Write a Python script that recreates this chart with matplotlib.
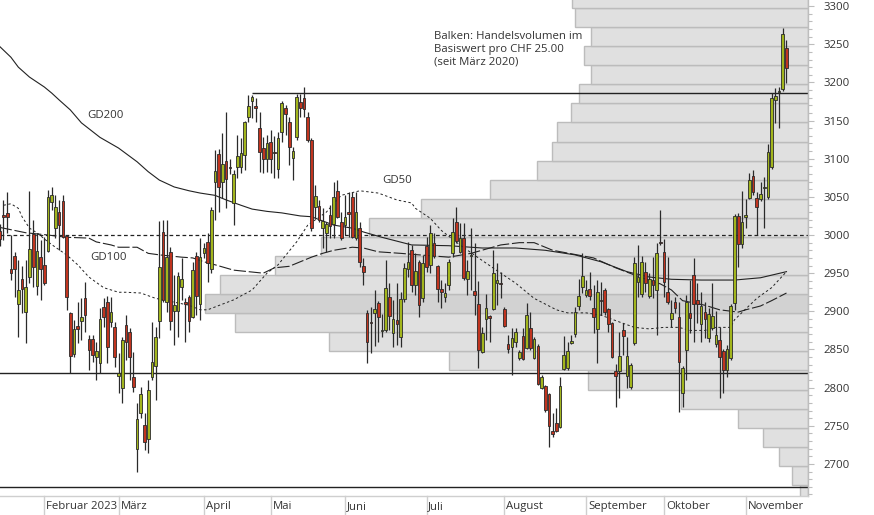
import matplotlib
matplotlib.use("Agg")
import matplotlib.pyplot as plt
from matplotlib.ticker import MultipleLocator, FormatStrFormatter
import numpy as np

plt.rcParams["font.family"] = ["Open Sans", "DejaVu Sans"]

# ── Daten: Tageskerzen (Index = Handelstag ab Mitte Januar 2023) ──────────────
OPEN = [3005, 3026, 3029, 2955, 2973, 2910, 2942, 2899, 2945, 3001, 2933, 2971, 2961, 2979, 3043, 3009,
        3030, 3045, 2999, 2898, 2844, 2881, 2887, 2918, 2864, 2864, 2840, 2832, 2906, 2912, 2886, 2880,
        2815, 2800, 2882, 2873, 2814, 2720, 2767, 2751, 2733, 2814, 2828, 2887, 3004, 2912, 2978, 2901,
        2901, 2932, 2912, 2919, 2893, 2972, 2910, 2976, 2991, 2955, 3069, 3106, 3069, 3097, 3089, 3042,
        3089, 3089, 3105, 3155, 3176, 3169, 3140, 3114, 3100, 3122, 3108, 3086, 3135, 3166, 3148, 3101,
        3128, 3174, 3180, 3155, 3125, 3037, 3038, 3009, 3003, 3026, 3014, 3058, 3017, 3013, 3030, 3050,
        2996, 3009, 2959, 2898, 2886, 2898, 2911, 2874, 2876, 2919, 2872, 2889, 2866, 2916, 2955, 2980,
        2935, 2965, 2918, 2986, 2961, 2990, 2959, 2929, 2919, 2935, 2976, 3017, 2978, 2996, 2942, 2972,
        2927, 2910, 2847, 2890, 2894, 2903, 2937, 2937, 2903, 2857, 2853, 2860, 2839, 2868, 2852, 2878,
        2839, 2855, 2800, 2802, 2792, 2743, 2754, 2749, 2824, 2826, 2859, 2870, 2907, 2932, 2921, 2929,
        2904, 2877, 2914, 2928, 2903, 2885, 2822, 2822, 2876, 2815, 2801, 2859, 2938, 2923, 2951, 2920,
        2941, 2928, 2991, 2978, 2925, 2890, 2912, 2893, 2793, 2849, 2898, 2948, 2915, 2884, 2899, 2865,
        2878, 2857, 2862, 2848, 2823, 2839, 2911, 3025, 2988, 3024, 3049, 3077, 3048, 3047, 3061, 3050,
        3089, 3177, 3187, 3191, 3245]
HIGH = [3015, 3046, 3056, 3000, 2978, 2967, 2959, 2967, 3058, 3020, 3003, 2994, 2997, 3059, 3063, 3052,
        3046, 3052, 3000, 2899, 2889, 2912, 2918, 2939, 2869, 2869, 2860, 2904, 2918, 2920, 2919, 2886,
        2845, 2866, 2895, 2878, 2847, 2780, 2801, 2767, 2810, 2886, 2880, 3018, 3020, 3020, 2984, 2948,
        2952, 2970, 2918, 2921, 2965, 2978, 2996, 2990, 3003, 3037, 3111, 3113, 3134, 3161, 3100, 3085,
        3131, 3127, 3150, 3183, 3183, 3180, 3161, 3128, 3131, 3138, 3130, 3135, 3175, 3170, 3155, 3115,
        3185, 3185, 3194, 3161, 3127, 3066, 3046, 3035, 3017, 3039, 3069, 3072, 3030, 3052, 3056, 3056,
        3056, 3017, 2970, 2902, 2906, 2928, 2914, 2896, 2967, 2937, 2915, 2937, 2925, 2963, 2991, 2987,
        2976, 2967, 2974, 2997, 3013, 3003, 2961, 2941, 2937, 2969, 3022, 3037, 3016, 3016, 2967, 3009,
        2990, 2940, 2880, 2923, 2895, 2980, 2963, 2952, 2906, 2869, 2878, 2878, 2849, 2878, 2911, 2899,
        2866, 2857, 2816, 2804, 2793, 2767, 2773, 2814, 2868, 2860, 2869, 2906, 2942, 2976, 2941, 2952,
        2935, 2941, 2938, 2930, 2904, 2886, 2831, 2873, 2885, 2866, 2832, 2971, 2987, 2972, 2965, 2950,
        2971, 2990, 3033, 2995, 2971, 2915, 2919, 2912, 2828, 2921, 2941, 2970, 2937, 2925, 2912, 2904,
        2937, 2900, 2880, 2850, 2856, 2910, 3028, 3029, 3058, 3047, 3081, 3085, 3056, 3069, 3076, 3119,
        3186, 3193, 3194, 3271, 3255]
LOW = [2985, 2993, 3003, 2941, 2919, 2866, 2898, 2859, 2937, 2932, 2921, 2915, 2935, 2978, 3033, 2996,
       2980, 2996, 2902, 2819, 2840, 2859, 2862, 2873, 2823, 2834, 2810, 2819, 2880, 2832, 2880, 2827,
       2793, 2780, 2836, 2810, 2794, 2690, 2760, 2718, 2714, 2810, 2784, 2865, 2912, 2899, 2876, 2856,
       2866, 2915, 2860, 2873, 2891, 2895, 2889, 2970, 2938, 2950, 3020, 3030, 3049, 3035, 3080, 3013,
       3075, 3081, 3085, 3148, 3153, 3148, 3083, 3081, 3083, 3081, 3075, 3075, 3122, 3131, 3092, 3072,
       3124, 3155, 3155, 3122, 3005, 3022, 3017, 2983, 2978, 2996, 2996, 3022, 2994, 3000, 2997, 2996,
       2993, 2958, 2935, 2832, 2845, 2855, 2860, 2866, 2873, 2876, 2853, 2856, 2853, 2912, 2945, 2925,
       2921, 2893, 2912, 2952, 2950, 2970, 2912, 2904, 2912, 2928, 2971, 2990, 2976, 2941, 2921, 2928,
       2895, 2826, 2845, 2862, 2860, 2902, 2908, 2918, 2880, 2845, 2817, 2853, 2836, 2836, 2850, 2849,
       2837, 2803, 2798, 2768, 2722, 2735, 2742, 2747, 2823, 2823, 2857, 2866, 2902, 2924, 2919, 2915,
       2872, 2832, 2895, 2895, 2873, 2839, 2775, 2787, 2843, 2800, 2798, 2856, 2919, 2919, 2925, 2917,
       2918, 2869, 2987, 2919, 2909, 2880, 2898, 2768, 2775, 2810, 2872, 2860, 2885, 2860, 2865, 2860,
       2876, 2853, 2787, 2793, 2814, 2836, 2902, 2958, 2983, 3009, 3047, 3052, 3000, 3044, 3009, 3047,
       3087, 3147, 3140, 3189, 3199]
CLOSE = [2995, 3023, 3024, 2950, 2955, 2928, 2929, 2932, 2982, 2958, 2979, 2955, 2937, 3050, 3052, 3037,
         3013, 2997, 2919, 2842, 2877, 2877, 2893, 2895, 2849, 2843, 2848, 2890, 2893, 2853, 2899, 2840,
         2819, 2862, 2860, 2840, 2801, 2759, 2792, 2729, 2797, 2834, 2866, 2958, 2915, 2971, 2887, 2908,
         2946, 2942, 2910, 2887, 2954, 2920, 2971, 2983, 2963, 3033, 3084, 3063, 3093, 3073, 3088, 3080,
         3104, 3108, 3148, 3169, 3181, 3166, 3109, 3100, 3121, 3100, 3107, 3127, 3173, 3158, 3115, 3110,
         3181, 3166, 3165, 3125, 3009, 3051, 3020, 3018, 3014, 3012, 3050, 3024, 2996, 3024, 3028, 2997,
         3030, 2965, 2952, 2860, 2885, 2903, 2893, 2876, 2931, 2894, 2890, 2884, 2916, 2957, 2965, 2935,
         2953, 2908, 2963, 2958, 3003, 2973, 2929, 2925, 2924, 2965, 3004, 2992, 2996, 2944, 2953, 2974,
         2921, 2849, 2872, 2904, 2891, 2950, 2941, 2936, 2881, 2851, 2865, 2873, 2847, 2838, 2895, 2852,
         2864, 2805, 2814, 2771, 2750, 2739, 2743, 2802, 2843, 2848, 2861, 2899, 2920, 2946, 2928, 2920,
         2893, 2925, 2913, 2899, 2883, 2840, 2815, 2842, 2868, 2842, 2830, 2963, 2945, 2965, 2937, 2942,
         2934, 2976, 2990, 2938, 2912, 2898, 2904, 2834, 2826, 2912, 2891, 2910, 2909, 2907, 2890, 2897,
         2894, 2869, 2840, 2823, 2851, 2907, 3025, 2988, 3017, 3026, 3072, 3056, 3037, 3054, 3062, 3109,
         3180, 3182, 3188, 3263, 3219]

GD200_DAY = [0, 3, 5, 8, 12, 14, 16, 19, 22, 27, 32, 37, 40, 43, 47, 51, 54, 58, 61, 65, 68, 72, 76, 81,
             84, 90, 95, 98, 103, 111, 121, 130, 139, 147, 155, 162, 169, 175, 181, 189, 198, 205, 212]
GD200_VAL = [3247, 3233, 3220, 3207, 3194, 3186, 3177, 3164, 3147, 3128, 3114, 3096, 3083, 3072, 3063,
             3058, 3055, 3052, 3046, 3039, 3034, 3031, 3029, 3025, 3024, 3013, 3009, 3004, 2997, 2987,
             2986, 2983, 2983, 2980, 2974, 2965, 2952, 2945, 2942, 2941, 2941, 2944, 2952]
GD100_DAY = [0, 7, 13, 18, 24, 26, 30, 32, 37, 40, 43, 49, 52, 55, 58, 63, 67, 71, 74, 78, 81, 84, 87,
             90, 95, 98, 102, 108, 113, 121, 127, 135, 140, 144, 149, 160, 166, 173, 178, 181, 184, 190,
             194, 199, 201, 205, 208, 212]
GD100_VAL = [3010, 3003, 3000, 2997, 2996, 2991, 2987, 2984, 2984, 2976, 2974, 2971, 2970, 2965, 2961,
             2954, 2952, 2950, 2957, 2959, 2965, 2971, 2976, 2980, 2984, 2983, 2978, 2976, 2974, 2971,
             2976, 2987, 2990, 2990, 2980, 2970, 2957, 2944, 2936, 2928, 2914, 2908, 2902, 2899, 2902,
             2907, 2914, 2924]
GD50_DAY = [1, 3, 5, 6, 8, 10, 13, 15, 18, 21, 24, 28, 32, 34, 38, 42, 47, 51, 54, 56, 63, 68, 72, 75,
            80, 83, 88, 92, 97, 102, 107, 111, 112, 116, 119, 124, 129, 135, 139, 144, 150, 153, 158,
            162, 167, 171, 175, 179, 183, 186, 190, 193, 197, 198, 204, 208, 212]
GD50_VAL = [3039, 3041, 3035, 3024, 3009, 3003, 2991, 2984, 2974, 2961, 2945, 2931, 2925, 2925, 2924,
            2917, 2912, 2908, 2902, 2902, 2915, 2928, 2950, 2961, 2991, 3013, 3030, 3052, 3058, 3055,
            3046, 3042, 3035, 3022, 3006, 2987, 2970, 2950, 2937, 2917, 2902, 2898, 2898, 2895, 2886,
            2879, 2877, 2879, 2879, 2875, 2875, 2879, 2879, 2889, 2917, 2931, 2952]

# Volumenprofil: Handelsvolumen je CHF-25-Band (relativ, Maximum = 100)
VOL_BIN_LOW = [b + 0.5 for b in range(2647, 3298, 25)]
VOL_REL = [1.3, 2.7, 4.8, 7.5, 11.6, 21.1, 36.5, 59.5, 79.4, 95.0, 100.0, 97.5, 88.4, 80.8, 72.8,
           64.2, 52.7, 44.9, 42.5, 41.6, 39.3, 38.0, 36.0, 37.1, 36.0, 38.6, 39.1]

# Horizontale Marken
RESIST_LEVEL = 3186
RESIST_FROM_DAY = 68
SUPPORT_LEVEL = 2819
LOW_LEVEL = 2670
REF_LEVEL = 3000

MONTH_LABELS = ["Februar 2023", "März", "April", "Mai", "Juni", "Juli", "August",
                "September", "Oktober", "November"]
MONTH_START_DAY = [12, 32, 55, 73, 93, 115, 136, 158, 179, 201]

# ── Darstellung ───────────────────────────────────────────────────────────────
XMIN, XMAX = 0.06, 217.8
YMIN, YMAX = 2658, 3308
UP_COLOR = "#a2b51d"
DOWN_COLOR = "#c0341f"
EDGE = "#2a2a2a"
TXT = "#333333"
AXIS_GRAY = "#bdbdbd"
FS = 8.2

fig = plt.figure(figsize=(8.74, 5.15), dpi=100)
ax = fig.add_axes([0, 19 / 515, 808 / 874, 496 / 515])
ax2 = ax.twiny()

# Volumenbalken (von rechts)
vmax_i = int(np.argmax(VOL_REL))
for k, (b, v) in enumerate(zip(VOL_BIN_LOW, VOL_REL)):
    fc = "#d2d2d2" if k == vmax_i else "#e0e0e0"
    ax2.barh(b, v, height=25, align="edge", color=fc, edgecolor="#bcbcbc", linewidth=1.0)
ax2.set_xlim(134, 0)
ax2.set_ylim(YMIN, YMAX)
ax2.set_axis_off()

ax.set_zorder(ax2.get_zorder() + 1)
ax.patch.set_visible(False)

# Kerzen
o = np.array(OPEN, float); h = np.array(HIGH, float)
l = np.array(LOW, float); c = np.array(CLOSE, float)
days = np.arange(len(o))
up = c >= o
ax.vlines(days, l, h, color=EDGE, linewidth=0.9, zorder=3)
body_lo = np.minimum(o, c)
body_h = np.maximum(np.abs(c - o), 1.5)
ax.bar(days, body_h, bottom=body_lo, width=0.72,
       color=np.where(up, UP_COLOR, DOWN_COLOR), edgecolor=EDGE, linewidth=0.6, zorder=4)

# Linien
ax.axhline(REF_LEVEL, color="#222222", linewidth=0.9, linestyle=(0, (3, 2.2)), zorder=2)
ax.axhline(SUPPORT_LEVEL, color="#222222", linewidth=1.0, zorder=2)
ax.axhline(LOW_LEVEL, color="#222222", linewidth=1.0, zorder=2)
ax.hlines(RESIST_LEVEL, RESIST_FROM_DAY, XMAX, color="#222222", linewidth=1.0, zorder=2)

ax.plot(GD200_DAY, GD200_VAL, color="#222222", linewidth=0.8, zorder=2)
ax.plot(GD100_DAY, GD100_VAL, color="#222222", linewidth=0.8, linestyle=(0, (11, 2.5)), zorder=2)
ax.plot(GD50_DAY, GD50_VAL, color="#222222", linewidth=0.7, linestyle=(0, (2.5, 2.5)), zorder=2)

ax.text(28.6, 3157, "GD200", fontsize=FS, color=TXT, ha="center", va="center")
ax.text(29.2, 2970, "GD100", fontsize=FS, color=TXT, ha="center", va="center")
ax.text(107, 3071, "GD50", fontsize=FS, color=TXT, ha="center", va="center")
ax.text(117, 3267, "Balken: Handelsvolumen im\nBasiswert pro CHF 25.00\n(seit März 2020)",
        fontsize=FS, color=TXT, ha="left", va="top", linespacing=1.2)

# Achsen
ax.set_xlim(XMIN, XMAX)
ax.set_ylim(YMIN, YMAX)
ax.yaxis.tick_right()
ax.yaxis.set_major_locator(MultipleLocator(50))
ax.yaxis.set_minor_locator(MultipleLocator(10))
ax.yaxis.set_major_formatter(FormatStrFormatter("%d"))
ax.tick_params(axis="y", which="major", length=4, width=0.8, color=AXIS_GRAY,
               labelsize=FS, labelcolor=TXT, pad=7)
ax.tick_params(axis="y", which="minor", length=3, width=0.8, color=AXIS_GRAY)
ax.set_xticks([])
for s in ["top", "left"]:
    ax.spines[s].set_visible(False)
ax.spines["right"].set_color(AXIS_GRAY)
ax.spines["bottom"].set_color("#cfcfcf")
ax.spines["right"].set_linewidth(1.0)
ax.spines["bottom"].set_linewidth(1.0)

xt = ax.get_xaxis_transform()
for d, lab in zip(MONTH_START_DAY, MONTH_LABELS):
    ax.plot([d, d], [0, -0.04], transform=xt, color="#cfcfcf", linewidth=1.0, clip_on=False)
    ax.text(d + 0.5, -0.021, lab, transform=xt, fontsize=FS, color=TXT,
            ha="left", va="center", clip_on=False)

fig.savefig("out.png", dpi=100)
